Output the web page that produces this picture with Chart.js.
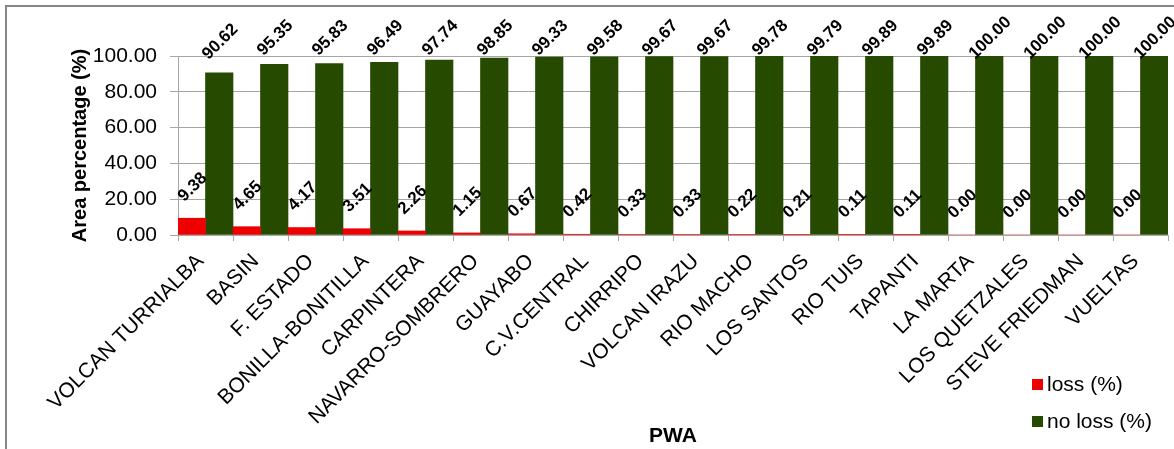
<!DOCTYPE html>
<html><head><meta charset="utf-8">
<script src="https://cdn.jsdelivr.net/npm/chart.js@4.4.1/dist/chart.umd.min.js"></script>
<style>html,body{margin:0;padding:0;background:#fff;}#wrap{width:1174px;height:449px;position:relative;}</style>
</head><body><div id="wrap"><canvas id="c" width="1174" height="449"></canvas></div>
<script>
const categories = ["VOLCAN TURRIALBA","BASIN","F. ESTADO","BONILLA-BONITILLA","CARPINTERA","NAVARRO-SOMBRERO","GUAYABO","C.V.CENTRAL","CHIRRIPO","VOLCAN IRAZU","RIO MACHO","LOS SANTOS","RIO TUIS","TAPANTI","LA MARTA","LOS QUETZALES","STEVE FRIEDMAN","VUELTAS"];
const lossValues = [9.38,4.65,4.17,3.51,2.26,1.15,0.67,0.42,0.33,0.33,0.22,0.21,0.11,0.11,0.00,0.00,0.00,0.00];
const noLossValues = [90.62,95.35,95.83,96.49,97.74,98.85,99.33,99.58,99.67,99.67,99.78,99.79,99.89,99.89,100.00,100.00,100.00,100.00];
const yTickValues = [0,20,40,60,80,100];
const seriesNames = ["loss (%)","no loss (%)"];
const seriesColors = ["#EE0000","#264A00"];
const yTitle = "Area percentage (%)";
const xTitle = "PWA";

const FONT = "'Liberation Sans', Arial, Helvetica, sans-serif";
Chart.defaults.font.family = FONT;
Chart.defaults.color = '#000';
const GRID = '#A6A6A6';

const borderPlugin = {
  id: 'outerBorder',
  beforeDraw(chart) {
    const ctx = chart.ctx;
    ctx.save();
    ctx.fillStyle = '#fff';
    ctx.fillRect(0, 0, chart.width, chart.height);
    ctx.strokeStyle = '#868686';
    ctx.lineWidth = 2;
    ctx.strokeRect(6, 6, chart.width + 20, chart.height + 20);
    ctx.restore();
  }
};

const labelPlugin = {
  id: 'valueLabels',
  afterDatasetsDraw(chart) {
    const ctx = chart.ctx;
    ctx.save();
    ctx.font = "bold 17px " + FONT;
    ctx.fillStyle = '#000';
    ctx.textAlign = 'center';
    ctx.textBaseline = 'middle';
    chart.data.datasets.forEach((ds, i) => {
      const meta = chart.getDatasetMeta(i);
      meta.data.forEach((el, j) => {
        const v = ds.data[j];
        const cx = el.x + 1;
        const cy = Math.max(el.y - 31, 38);
        ctx.save();
        ctx.translate(cx, cy);
        ctx.rotate(-Math.PI / 4);
        ctx.fillText(v.toFixed(2), 0, 0);
        ctx.restore();
      });
    });
    ctx.restore();
  }
};

const legendPlugin = {
  id: 'customLegend',
  afterDraw(chart) {
    const ctx = chart.ctx;
    ctx.save();
    ctx.font = "21px " + FONT;
    ctx.textAlign = 'left';
    ctx.textBaseline = 'middle';
    chart.data.datasets.forEach((ds, i) => {
      const y = 379 + i * 37;
      ctx.fillStyle = ds.backgroundColor;
      ctx.fillRect(1032, y, 11, 11);
      ctx.fillStyle = '#000';
      ctx.fillText(ds.label, 1047, y + 6);
    });
    ctx.restore();
  }
};

new Chart(document.getElementById('c'), {
  type: 'bar',
  data: {
    labels: categories,
    datasets: [
      { label: seriesNames[0], data: lossValues, backgroundColor: seriesColors[0], borderWidth: 0, categoryPercentage: 1, barPercentage: 1 },
      { label: seriesNames[1], data: noLossValues, backgroundColor: seriesColors[1], borderWidth: 0, categoryPercentage: 1, barPercentage: 1 }
    ]
  },
  options: {
    responsive: false,
    animation: false,
    devicePixelRatio: 1,
    layout: { padding: { left: 0, right: 6, top: 56, bottom: 0 } },
    plugins: { legend: { display: false }, tooltip: { enabled: false } },
    scales: {
      x: {
        offset: true,
        grid: { display: true, drawOnChartArea: false, offset: true, tickLength: 6, color: GRID },
        border: { display: true, color: GRID },
        ticks: { minRotation: 45, maxRotation: 45, autoSkip: false, padding: 8, labelOffset: -5, font: { size: 21, lineHeight: 1.2 }, color: '#000' },
        title: { display: true, text: xTitle, font: { size: 21, weight: 'bold', lineHeight: 1.2 }, padding: { top: 0, bottom: 0 }, color: '#000' },
        afterFit(s) { s.height = 449 - 235; }
      },
      y: {
        min: 0, max: 100,
        afterBuildTicks(s) { s.ticks = yTickValues.map(v => ({ value: v })); },
        grid: { color: GRID, tickLength: 8 },
        border: { display: true, color: GRID },
        ticks: { padding: 13, font: { size: 21 }, color: '#000', callback: v => Number(v).toFixed(2) },
        title: { display: true, text: yTitle, font: { size: 20, weight: 'bold', lineHeight: 1.2 }, padding: { top: 68, bottom: 0 }, color: '#000' },
        afterFit(s) { s.width = 178; }
      }
    }
  },
  plugins: [borderPlugin, labelPlugin, legendPlugin]
});
</script>
</body></html>
